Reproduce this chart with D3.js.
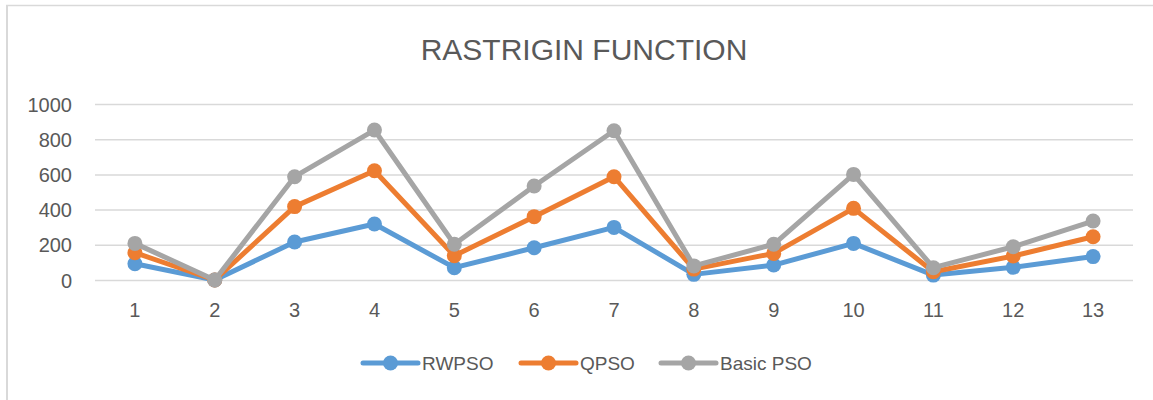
<!DOCTYPE html>
<html>
<head>
<meta charset="utf-8">
<script src="https://cdn.jsdelivr.net/npm/d3@7"></script>
<style>
  html, body { margin: 0; padding: 0; background: #fff; }
  svg { display: block; }
</style>
</head>
<body>
<svg id="chart" width="1153" height="400"></svg>
<script>
const categories = ["1","2","3","4","5","6","7","8","9","10","11","12","13"];
const rwpso    = [92, 0, 216, 318, 70, 183, 299, 32, 85, 208, 28, 72, 133];
const qpso     = [155, 0, 417, 621, 138, 360, 587, 62, 151, 407, 47, 136, 246];
const basicPso = [208, 0, 587, 852, 203, 534, 848, 80, 203, 600, 70, 189, 335];
const seriesNames = ["RWPSO", "QPSO", "Basic PSO"];
const yTicks = [0, 200, 400, 600, 800, 1000];
const title = "RASTRIGIN FUNCTION";

const colors = ["#5B9BD5", "#ED7D31", "#A5A5A5"];
const seriesData = [rwpso, qpso, basicPso];
const font = "'Liberation Sans', Arial, sans-serif";

const svg = d3.select("#chart");

// chart area border (left and top only visible)
svg.append("line").attr("x1", 7).attr("x2", 7).attr("y1", 5).attr("y2", 400)
  .attr("stroke", "#d9d9d9").attr("stroke-width", 2);
svg.append("line").attr("x1", 6).attr("x2", 1153).attr("y1", 5.5).attr("y2", 5.5)
  .attr("stroke", "#d9d9d9").attr("stroke-width", 1.5);

const x = d3.scaleBand().domain(categories).range([95, 1133]);
const y = d3.scaleLinear().domain([0, 1000]).range([280, 104]);

// title
svg.append("text").attr("x", 584).attr("y", 60).attr("text-anchor", "middle")
  .attr("font-family", font).attr("font-size", 30).attr("fill", "#595959")
  .text(title);

// gridlines
const yAxis = d3.axisLeft(y).tickValues(yTicks).tickSize(-(1133 - 95)).tickPadding(23)
  .tickFormat(d3.format("d"));
const gy = svg.append("g").attr("transform", "translate(95,0)").call(yAxis);
gy.select(".domain").remove();
gy.selectAll(".tick line").attr("stroke", "#d9d9d9").attr("stroke-width", 1.5);
gy.selectAll(".tick text").attr("font-family", font).attr("font-size", 20)
  .attr("fill", "#595959").attr("dy", "0.35em");

// x axis labels
const xAxis = d3.axisBottom(x).tickSize(0).tickPadding(23);
const gx = svg.append("g").attr("transform", "translate(0,280)").call(xAxis);
gx.select(".domain").remove();
gx.selectAll(".tick text").attr("font-family", font).attr("font-size", 20)
  .attr("fill", "#595959");

const line = d3.line()
  .x((d, i) => x(categories[i]) + x.bandwidth() / 2)
  .y(d => y(d));

seriesData.forEach((vals, k) => {
  const g = svg.append("g");
  g.append("path").datum(vals).attr("d", line).attr("fill", "none")
    .attr("stroke", colors[k]).attr("stroke-width", 5)
    .attr("stroke-linejoin", "round").attr("stroke-linecap", "round");
  g.selectAll("circle").data(vals).join("circle")
    .attr("cx", (d, i) => x(categories[i]) + x.bandwidth() / 2)
    .attr("cy", d => y(d)).attr("r", 7.5).attr("fill", colors[k]);
});

// legend
const legendX = [363, 521, 661];
const legendY = 363;
seriesNames.forEach((name, k) => {
  const g = svg.append("g").attr("transform", `translate(${legendX[k]},${legendY})`);
  g.append("line").attr("x1", 0).attr("x2", 55).attr("y1", 0).attr("y2", 0)
    .attr("stroke", colors[k]).attr("stroke-width", 5).attr("stroke-linecap", "round");
  g.append("circle").attr("cx", 27.5).attr("cy", 0).attr("r", 7.5).attr("fill", colors[k]);
  g.append("text").attr("x", 59).attr("y", 0).attr("dy", "0.35em")
    .attr("font-family", font).attr("font-size", 19).attr("fill", "#595959").text(name);
});
</script>
</body>
</html>
